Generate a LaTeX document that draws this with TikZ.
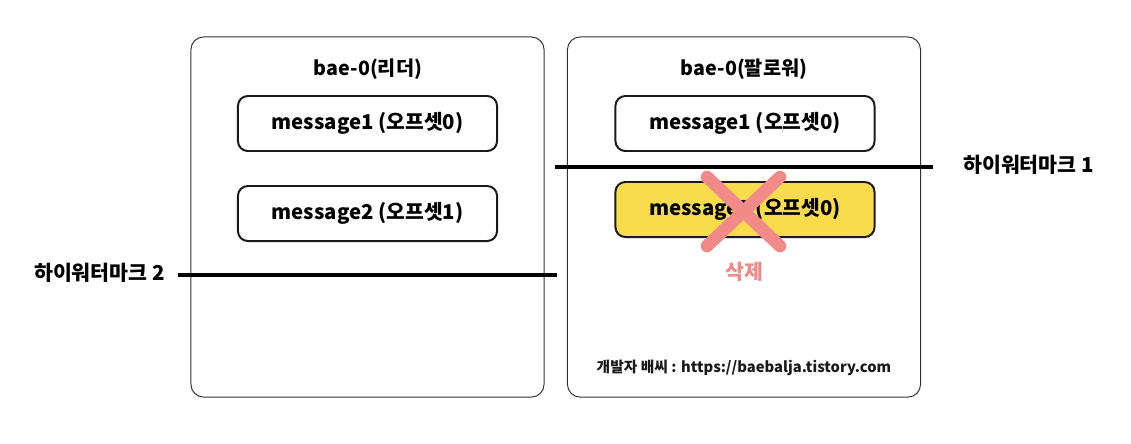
\documentclass[tikz,border=0pt]{standalone}
\usepackage{fontspec}
\setmainfont{Noto Sans CJK KR}
\usetikzlibrary{positioning}
\definecolor{cline}{HTML}{1A1A1A}
\definecolor{cpanel}{HTML}{333333}
\definecolor{cyellow}{HTML}{F9DC4B}
\definecolor{cpink}{HTML}{F28A8A}
\tikzset{
  every picture/.style={font=\bfseries},
  panel/.style={draw=cpanel, line width=0.7pt, rounded corners=9pt, minimum width=8.825cm, minimum height=9cm, inner sep=0pt},
  msg/.style={draw=cline, line width=1.4pt, rounded corners=7pt, minimum width=6.475cm, minimum height=1.375cm, inner sep=0pt, font=\bfseries\fontsize{14.5}{17}\selectfont},
  title/.style={font=\bfseries\fontsize{14}{17}\selectfont},
  hwline/.style={draw=black, line width=2.4pt},
  hwlabel/.style={font=\bfseries\fontsize{14.6}{17}\selectfont, inner sep=0pt},
  cross/.style={draw=cpink, line width=9pt, line cap=round},
}

\begin{document}
\begin{tikzpicture}[x=0.025cm, y=-0.025cm]
  \useasboundingbox (0,0) rectangle (1131,443);

  % leader
  \node[panel] (lead) at (367.5,217) {};
  \node[title] (leadt) at (368,69) {bae-0(리더)};
  \node[msg] (lm1) at (367.5,123.5) {message1 (오프셋0)};
  \node[msg] (lm2) at (367.5,213.5) {message2 (오프셋1)};

  % follower
  \node[panel] (foll) at (744,217) {};
  \node[title] (follt) at (744,69) {bae-0(팔로워)};
  \node[msg] (fm1) at (745,123.5) {message1 (오프셋0)};
  \node[msg, fill=cyellow] (fm2) at (745,209.5) {message2 (오프셋0)};

  % deleted
  \coordinate (xa) at (707,177);
  \coordinate (xb) at (780,246);
  \coordinate (xc) at (780,177);
  \coordinate (xd) at (707,246);
  \draw[cross] (xa) -- (xb);
  \draw[cross] (xc) -- (xd);
  \node[hwlabel, text=cpink] (del) at (744,272) {삭제};

  % high watermarks
  \node[hwlabel, anchor=west] (hw1) at (963,165) {하이워터마크 1};
  \coordinate (hw1s) at (555,167);
  \coordinate (hw1e) at (933,167);
  \draw[hwline] (hw1s) -- (hw1e);
  \node[hwlabel, anchor=east] (hw2) at (165,273) {하이워터마크 2};
  \coordinate (hw2s) at (178,275);
  \coordinate (hw2e) at (557,275);
  \draw[hwline] (hw2s) -- (hw2e);

  \node[font=\bfseries\fontsize{10.5}{12}\selectfont, text=cline] (src) at (744,368) {개발자 배씨 : https://baebalja.tistory.com};
\end{tikzpicture}
\end{document}
